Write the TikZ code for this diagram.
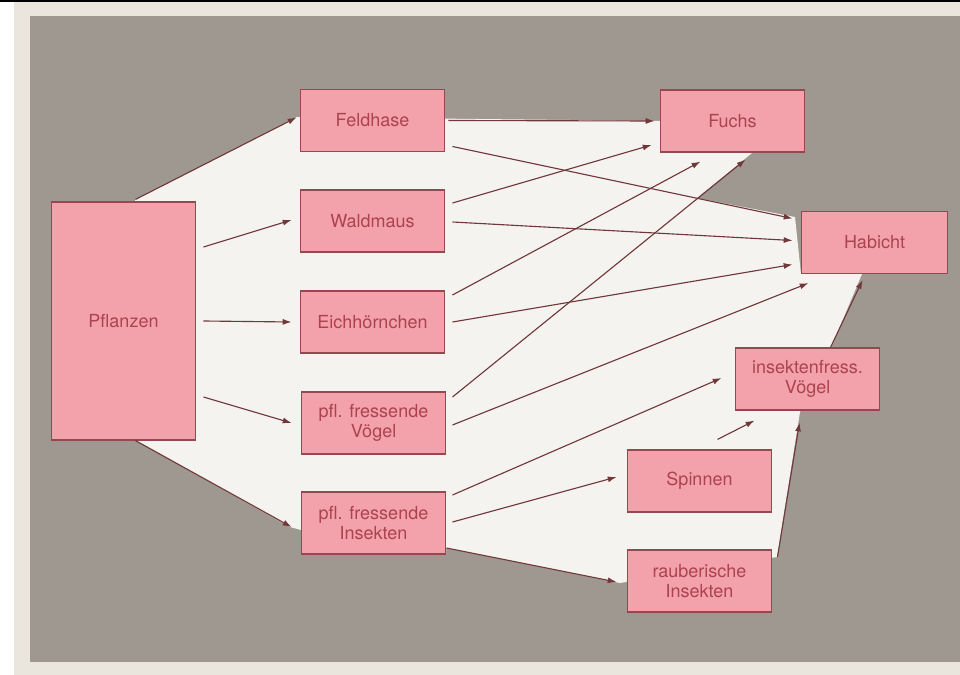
\documentclass[tikz,border=0pt]{standalone}
\usepackage{fontspec}
\setmainfont{TeX Gyre Heros}
\usetikzlibrary{arrows.meta,calc}

\definecolor{pagecol}{RGB}{234,229,221}
\definecolor{bggray}{RGB}{158,152,144}
\definecolor{lightarea}{RGB}{245,243,239}
\definecolor{boxfill}{RGB}{243,162,171}
\definecolor{boxline}{RGB}{150,72,80}
\definecolor{boxtext}{RGB}{172,66,82}
\definecolor{arrowcol}{RGB}{112,56,58}

\tikzset{
  box/.style={draw=boxline, fill=boxfill, line width=0.8pt, minimum width=3.62cm,
    minimum height=1.55cm, align=center, inner sep=2pt, text=boxtext,
    font=\fontsize{12.8}{14.5}\selectfont},
  arr/.style={draw=arrowcol, line width=0.8pt, -{Latex[length=2.2mm,width=1.5mm]}}
}

\begin{document}
\begin{tikzpicture}[x=0.025cm,y=-0.025cm]
    \useasboundingbox (0,0) rectangle (960,675);
    \fill[pagecol] (14,0) rectangle (960,675);
    \fill[black] (0,0) rectangle (960,2);
    \fill[bggray] (30,16) rectangle (960,662);
    % light area behind the arrows
    \fill[lightarea] (135,200) -- (297,117) -- (660,121) -- (660,153) -- (752,153)
        -- (697,198) -- (795,217) -- (801,274) -- (862,274) -- (830,350) -- (800,412)
        -- (777,557) -- (620,583) -- (446,548) -- (446,554) -- (301,554) -- (301,530)
        -- (290,527) -- (135,440) -- cycle;

    \node[box, minimum height=5.95cm] (pflanzen) at (123.5,321) {Pflanzen};
    \node[box] (feldhase) at (372.5,120.5) {Feldhase};
    \node[box] (waldmaus) at (372.5,221) {Waldmaus};
    \node[box] (eich) at (372.5,322) {Eichhörnchen};
    \node[box] (pflvoegel) at (373.5,423) {pfl. fressende\\Vögel};
    \node[box] (pflinsekten) at (373.5,523) {pfl. fressende\\Insekten};
    \node[box] (fuchs) at (732.5,121) {Fuchs};
    \node[box, minimum width=3.67cm] (habicht) at (874.5,242.5) {Habicht};
    \node[box] (insvoegel) at (807.5,379) {insektenfress.\\Vögel};
    \node[box] (spinnen) at (699.5,481) {Spinnen};
    \node[box] (raeuber) at (699.5,581) {rauberische\\Insekten};

    % Pflanzen
    \draw[arr] ($(pflanzen.north)+(12,-2)$) -- ($(feldhase.west)+(-3,-3)$);
    \draw[arr] ($(pflanzen.east)+(7,-74)$) -- ($(waldmaus.west)+(-8,-1)$);
    \draw[arr] ($(pflanzen.east)+(7,0)$) -- ($(eich.west)+(-8,0)$);
    \draw[arr] ($(pflanzen.east)+(7,76)$) -- ($(pflvoegel.west)+(-9,0)$);
    \draw[arr] ($(pflanzen.south)+(12,0)$) -- ($(pflinsekten.west)+(-9,4)$);

    % Pflanzenfresser
    \draw[arr] ($(feldhase.east)+(3,0)$) -- ($(fuchs.west)+(-5,0)$);
    \draw[arr] ($(feldhase.east)+(7,26)$) -- ($(habicht.west)+(-8,-24)$);
    \draw[arr] ($(waldmaus.east)+(7,-18)$) -- ($(fuchs.west)+(-8,24)$);
    \draw[arr] ($(waldmaus.east)+(7,1)$) -- ($(habicht.west)+(-8,-2)$);
    \draw[arr] ($(eich.east)+(7,-27)$) -- ($(fuchs.south)+(-32,9)$);
    \draw[arr] ($(eich.east)+(7,0)$) -- ($(habicht.west)+(-8,22)$);
    \draw[arr] ($(pflvoegel.east)+(6,-26)$) -- ($(fuchs.south)+(13,7)$);
    \draw[arr] ($(pflvoegel.east)+(6,2)$) -- ($(habicht.south)+(-66,9)$);
    \draw[arr] ($(pflinsekten.east)+(6,-28)$) -- ($(insvoegel.west)+(-13,-1)$);
    \draw[arr] ($(pflinsekten.east)+(6,-1)$) -- ($(spinnen.west)+(-10,-4)$);
    \draw[arr] ($(pflinsekten.east)+(0,25)$) -- ($(raeuber.west)+(-10,1)$);

    % Raeuber
    \draw[arr] ($(spinnen.north)+(18,-10)$) -- ($(insvoegel.south)+(-53,10)$);
    \draw[arr] ($(raeuber.east)+(5,-24)$) -- ($(insvoegel.south)+(-8,12)$);
    \draw[arr] ($(insvoegel.north)+(23,0)$) -- ($(habicht.south)+(-12,6)$);
\end{tikzpicture}
\end{document}
